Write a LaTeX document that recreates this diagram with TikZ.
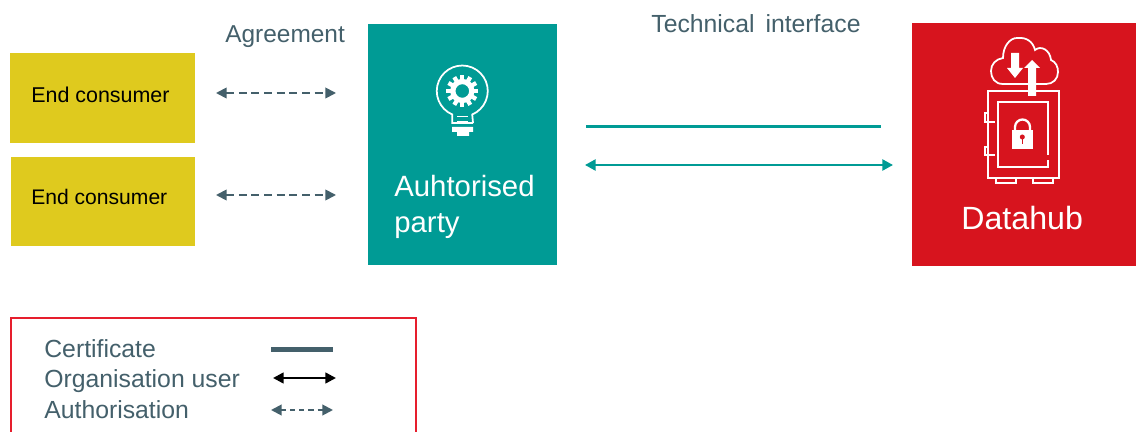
\documentclass[tikz,border=0pt]{standalone}
\usepackage{fontspec}
\setmainfont{Liberation Sans}
\usetikzlibrary{arrows.meta}
\definecolor{teal1}{HTML}{009B95}
\definecolor{red1}{HTML}{D7141E}
\definecolor{red2}{HTML}{E61E2D}
\definecolor{yellow1}{HTML}{DFCA1E}
\definecolor{slate1}{HTML}{44606B}
\tikzset{
    tealbox/.style={rectangle, fill=teal1, inner sep=0pt, minimum width=3.78cm, minimum height=4.82cm},
    redbox/.style={rectangle, fill=red1, inner sep=0pt, minimum width=4.48cm, minimum height=4.86cm},
    yellowbox/.style={rectangle, fill=yellow1, inner sep=0pt, minimum width=3.7cm, minimum height=1.8cm},
    legendbox/.style={rectangle, draw=red2, line width=1.2pt, inner sep=0pt, minimum width=8.1cm, minimum height=2.6cm},
    txt/.style={anchor=base west, inner sep=0pt, text=slate1, font=\fontsize{14.1pt}{16pt}\selectfont},
    boxtxt/.style={anchor=base west, inner sep=0pt, text=white, font=\fontsize{16.7pt}{20pt}\selectfont},
    consumertxt/.style={anchor=base west, inner sep=0pt, font=\fontsize{12.2pt}{15pt}\selectfont},
    agree/.style={{Triangle[length=6pt,width=6pt]}-{Triangle[length=6pt,width=6pt]}, slate1, line width=1pt, dash pattern=on 4.5pt off 2.7pt},
    authline/.style={{Triangle[length=6pt,width=6pt]}-{Triangle[length=6pt,width=6pt]}, slate1, line width=1.1pt, dash pattern=on 2.9pt off 2.3pt},
    certline/.style={line width=2.3pt, slate1},
    userline/.style={{Triangle[length=6pt,width=6pt]}-{Triangle[length=6pt,width=6pt]}, black, line width=1.4pt},
    techline/.style={line width=2pt, teal1},
    techarrow/.style={{Triangle[length=6pt,width=6.2pt]}-{Triangle[length=6pt,width=6.2pt]}, teal1, line width=1.3pt},
    icon/.style={draw=white, line width=1pt}
}
\begin{document}
\begin{tikzpicture}[x=0.02cm, y=-0.02cm]
    \clip (0,0) rectangle (1136,432);
    \fill [white] (0,0) rectangle (1136,432);

    % Blocks
    \node [yellowbox] (consumerA) at (102.5,98) {};
    \node [yellowbox] (consumerB) at (103,201.5) {};
    \node [tealbox] (party) at (462.5,144.5) {};
    \node [redbox] (datahub) at (1024,144.5) {};
    \node [legendbox] (legend) at (213.5,382.8) {};

    % Texts
    \node [consumertxt] (consumerAtxt) at (31,103) {End consumer};
    \node [consumertxt, font=\fontsize{12pt}{15pt}\selectfont] (consumerBtxt) at (31,205) {End consumer};
    \node [txt, font=\fontsize{13.9pt}{16pt}\selectfont] (agreement) at (225,43) {Agreement};
    \node [txt] (technical) at (651,33) {Technical\hspace{2.3pt} interface};
    \node [boxtxt] (partyA) at (394,197) {Auhtorised};
    \node [boxtxt] (partyB) at (394,232.5) {party};
    \node [boxtxt, font=\fontsize{18.3pt}{22pt}\selectfont] (hubtxt) at (961,230) {Datahub};
    \node [txt] (certificate) at (44,357.3) {Certificate};
    \node [txt] (orguser) at (44,387) {Organisation user};
    \node [txt] (authorisation) at (44,418) {Authorisation};

    % Connector ends
    \coordinate (agreeAl) at (216,93);
    \coordinate (agreeAr) at (336,93);
    \coordinate (agreeBl) at (216,195);
    \coordinate (agreeBr) at (336,195);
    \coordinate (techAl) at (586,126.5);
    \coordinate (techAr) at (881,126.5);
    \coordinate (techBl) at (585,165);
    \coordinate (techBr) at (893,165);
    \coordinate (certl) at (271,349.5);
    \coordinate (certr) at (333,349.5);
    \coordinate (userl) at (273,378);
    \coordinate (userr) at (336,378);
    \coordinate (authl) at (271,410);
    \coordinate (authr) at (333,410);

    % Connections
    \draw [agree] (agreeAl) -- (agreeAr);
    \draw [agree] (agreeBl) -- (agreeBr);
    \draw [techline] (techAl) -- (techAr);
    \draw [techarrow] (techBl) -- (techBr);
    \draw [certline] (certl) -- (certr);
    \draw [userline] (userl) -- (userr);
    \draw [authline] (authl) -- (authr);

    % Bulb
    \draw [icon] (473,123) -- (452.3,123) -- (452.3,114.5) arc [start angle=113, end angle=427, radius=25.5] -- (473,123);
    \draw [icon, line width=.6pt] (457,116.7) -- (468,116.7) (457,121.7) -- (468,121.7);
    \fill [white] (452,127) rectangle (473,132) (457,132) rectangle (469,136);
    \draw [white, line width=3pt] (462.3,91) circle [radius=9.5];
    \foreach \a in {0,30,...,330}
        \draw [white, line width=2.4pt] (462.3,91) ++(\a:11) -- ++(\a:5);

    % Cloud
    \draw [icon] (1003,84) .. controls (995,84) and (991,78) .. (991,71)
        .. controls (991,64) and (996,59) .. (1003,58)
        .. controls (1003,46) and (1010,38) .. (1017,38)
        .. controls (1027,37) and (1033,42) .. (1035,50)
        .. controls (1041,45) and (1050,50) .. (1051,60)
        .. controls (1056,62) and (1058,67) .. (1058,72)
        .. controls (1058,79) and (1053,84) .. (1046,84) -- cycle;
    \fill [white] (1011,53) -- (1019,53) -- (1019,68) -- (1023,68) -- (1015,78) -- (1007,68) -- (1011,68) -- cycle;
    \fill [white] (1028,96) -- (1036,96) -- (1036,68) -- (1040,68) -- (1032,60) -- (1024,68) -- (1028,68) -- cycle;

    % Safe
    \draw [icon] (1028,90.7) -- (988,90.7) -- (988,177.7) -- (1059,177.7) -- (1059,90.7) -- (1036,90.7);
    \draw [icon] (1048,155) -- (1048,102) -- (998,102) -- (998,167) -- (1048,167) -- (1048,160);
    \draw [icon] (988,113) -- (985,113) -- (985,122) -- (995,122);
    \draw [icon] (988,147) -- (985,147) -- (985,155) -- (995,155);
    \draw [icon] (996,178) -- (996,183) -- (1016,183) -- (1016,178);
    \draw [icon] (1033,178) -- (1033,183) -- (1053,183) -- (1053,178);

    % Padlock
    \fill [white] (1012,130) rectangle (1033,149);
    \draw [white, line width=1.3pt] (1015,130) -- (1015,127) arc [start angle=180, end angle=360, radius=7.5] -- (1030,130);
    \fill [red1] (1022.3,137) circle [radius=2.5];
    \draw [red1, line width=.7pt] (1022.3,137) -- (1022.3,144);
\end{tikzpicture}
\end{document}
